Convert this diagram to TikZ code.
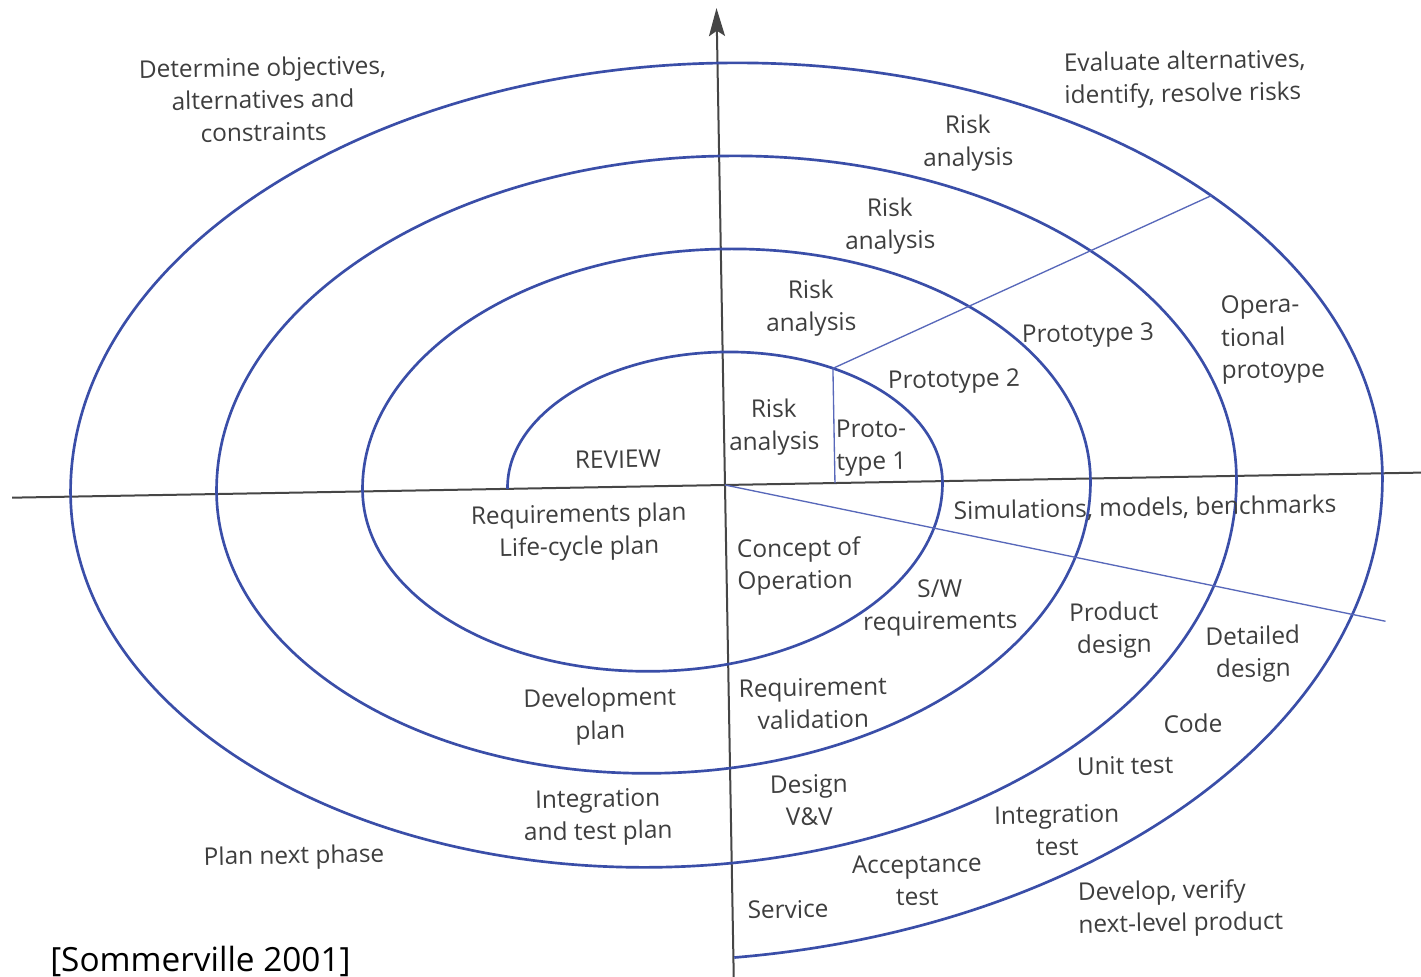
\documentclass[tikz,border=0pt]{standalone}
\usepackage{fontspec}
\setmainfont{Open Sans}
\newfontfamily\citefont{Open Sans}
\usetikzlibrary{arrows.meta}
\definecolor{spiralblue}{RGB}{58,78,168}
\definecolor{axisgray}{RGB}{70,70,70}
\definecolor{txtgray}{RGB}{62,62,62}
\definecolor{radialblue}{RGB}{88,104,186}

\begin{document}
\begin{tikzpicture}[x=0.75pt,y=0.75pt,
  lbl/.style={font=\fontsize{18.3}{24.3}\selectfont, text=txtgray, align=center, inner sep=0pt, rotate=1, yshift=-1.8pt},
  lbll/.style={lbl, align=left, anchor=west},
  spiralline/.style={draw=spiralblue, line width=2pt},
  axisline/.style={draw=axisgray, line width=1.5pt},
  radial/.style={draw=radialblue, line width=1pt}]
\useasboundingbox (0,0) rectangle (1421,-977);
\fill[white] (0,0) rectangle (1421,-977);

% the whole figure is tilted by about one degree
\begin{scope}[rotate around={1.02:(725,-485)}]
  \coordinate (O)   at (725,-485);
  \coordinate (axL) at (12,-485);
  \coordinate (axR) at (1440,-485);
  \coordinate (axT) at (725,-8);
  \coordinate (axB) at (725,-995);

  % axes
  \draw[axisline] (axL) -- (axR);
  \draw[axisline, -{Stealth[length=21pt,width=12pt,inset=4pt]}] (axB) -- (axT);

  % spiral built from alternating half-ellipses
  \coordinate (start) at (507.5,-485);
  \draw[spiralline] (start)
    arc[start angle=180, end angle=0,     x radius=217.5, y radius=133]
    arc[start angle=0,   end angle=-180,  x radius=290,   y radius=185]
    arc[start angle=180, end angle=0,     x radius=364,   y radius=236]
    arc[start angle=0,   end angle=-180,  x radius=437,   y radius=287]
    arc[start angle=180, end angle=0,     x radius=510,   y radius=329]
    arc[start angle=0,   end angle=-180,  x radius=583,   y radius=381]
    arc[start angle=180, end angle=0,     x radius=656,   y radius=422]
    arc[start angle=0,   end angle=-84.3, x radius=729,   y radius=475];

  % radial dividers
  \coordinate (J)  at (835,-370.3);
  \coordinate (JB) at (835,-485);
  \coordinate (E3) at (1216.5,-204.3);
  \coordinate (ER) at (1383,-633);
  \draw[radial] (J) -- (JB);
  \draw[radial] (J) -- (E3);
  \draw[radial] (O) -- (ER);
\end{scope}

% quadrant captions
\node[lbl] (detobj) at (263,-97) {Determine objectives,\\alternatives and\\constraints};
\node[lbll] (evalalt) at (1064,-79) {Evaluate alternatives,\\identify, resolve risks};
\node[lbl] (plannext) at (294,-855) {Plan next phase};
\node[lbll] (devver) at (1078,-908) {Develop, verify\\next-level product};

% risk analysis
\node[lbl] (ra4) at (968,-141) {Risk\\analysis};
\node[lbl] (ra3) at (890,-224) {Risk\\analysis};
\node[lbl] (ra2) at (811,-306) {Risk\\analysis};
\node[lbl] (ra1) at (774,-425) {Risk\\analysis};

% prototypes
\node[lbll] (p1) at (836,-446) {Proto-\\type 1};
\node[lbl] (p2) at (954,-379) {Prototype 2};
\node[lbl] (p3) at (1088,-333) {Prototype 3};
\node[lbll] (op) at (1221,-338) {Opera-\\tional\\protoype};

\node[lbl] (review) at (618,-457) {REVIEW};
\node[lbl] (sim) at (1145,-506) {Simulations, models, benchmarks};

% lower left: planning
\node[lbl] (reqplan) at (579,-530) {Requirements plan\\Life-cycle plan};
\node[lbl] (devplan) at (600,-714) {Development\\plan};
\node[lbl] (intplan) at (598,-815) {Integration\\and test plan};

% lower right: development
\node[lbll] (concept) at (737,-565) {Concept of\\Operation};
\node[lbl] (swreq) at (940,-605) {S/W\\requirements};
\node[lbl] (proddes) at (1114,-628) {Product\\design};
\node[lbl] (detdes) at (1253,-652) {Detailed\\design};
\node[lbl] (reqval) at (813,-701) {Requirement\\validation};
\node[lbl] (code) at (1193,-721) {Code};
\node[lbl] (unit) at (1125,-763) {Unit test};
\node[lbl] (desvv) at (809,-798) {Design\\V\&V};
\node[lbl] (inttest) at (1057,-828) {Integration\\test};
\node[lbl] (acc) at (917,-878) {Acceptance\\test};
\node[lbl] (service) at (788,-907) {Service};

% source
\node[anchor=west, inner sep=0pt, font=\citefont\fontsize{25}{28}\selectfont] (src) at (50,-961) {[Sommerville 2001]};
\end{tikzpicture}
\end{document}
